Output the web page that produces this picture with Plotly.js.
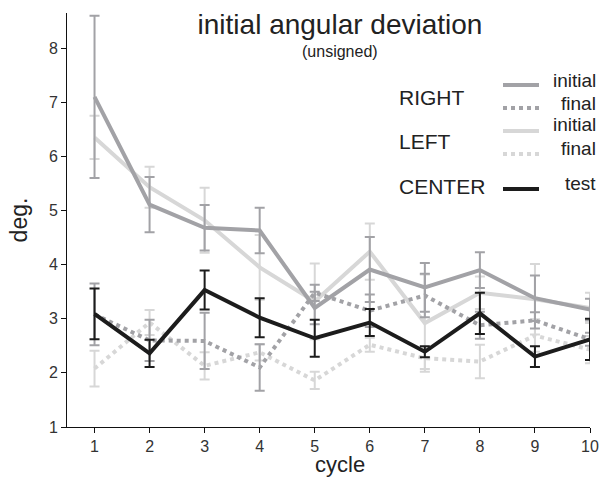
<!DOCTYPE html>
<html>
<head>
<meta charset="utf-8">
<script src="https://cdn.plot.ly/plotly-3.0.1.min.js"></script>
<style>html,body{margin:0;padding:0;background:#fff;}#chart{width:600px;height:478px;}</style>
</head>
<body>
<div id="chart"></div>
<script>
// ---- data ----
var cycles = [1, 2, 3, 4, 5, 6, 7, 8, 9, 10];
var rightInitial    = [7.10, 5.11, 4.68, 4.63, 3.20, 3.91, 3.58, 3.90, 3.38, 3.17];
var rightInitialErr = [1.50, 0.51, 0.42, 0.42, 0.30, 0.60, 0.45, 0.33, 0.42, 0.20];
var rightFinal      = [3.08, 2.60, 2.59, 2.10, 3.48, 3.15, 3.43, 2.88, 2.97, 2.62];
var rightFinalErr   = [0.57, 0.38, 0.52, 0.43, 0.15, 0.30, 0.40, 0.25, 0.15, 0.12];
var leftInitial     = [6.35, 5.43, 4.82, 3.95, 3.32, 4.24, 2.92, 3.48, 3.36, 3.20];
var leftInitialErr  = [0.40, 0.38, 0.60, 0.60, 0.70, 0.52, 0.90, 0.30, 0.65, 0.28];
var leftFinal       = [2.08, 2.93, 2.13, 2.38, 1.86, 2.52, 2.27, 2.21, 2.69, 2.43];
var leftFinalErr    = [0.33, 0.23, 0.25, 0.15, 0.16, 0.13, 0.20, 0.31, 0.30, 0.25];
var centerTest      = [3.09, 2.36, 3.53, 3.02, 2.64, 2.93, 2.39, 3.10, 2.30, 2.62];
var centerTestErr   = [0.47, 0.25, 0.36, 0.36, 0.34, 0.25, 0.10, 0.38, 0.19, 0.38];
var xTickVals = [1, 2, 3, 4, 5, 6, 7, 8, 9, 10];
var yTickVals = [1, 2, 3, 4, 5, 6, 7, 8];

// ---- styles ----
var COL_RIGHT = '#a2a2a6', COL_LEFT = '#d7d7d7', COL_CENTER = '#1c1c1c';
var FONT = '"Liberation Sans", Arial, Helvetica, sans-serif';
var TXT = '#222';

function tr(y, err, color, dash) {
  return {
    x: cycles, y: y, type: 'scatter', mode: 'lines',
    line: {color: color, width: 4, dash: dash},
    error_y: {type: 'data', array: err, visible: true, color: color, thickness: 2, width: 5},
    cliponaxis: false, showlegend: false, hoverinfo: 'skip'
  };
}
var data = [
  tr(leftFinal, leftFinalErr, COL_LEFT, 'dot'),
  tr(leftInitial, leftInitialErr, COL_LEFT, 'solid'),
  tr(rightFinal, rightFinalErr, COL_RIGHT, 'dot'),
  tr(rightInitial, rightInitialErr, COL_RIGHT, 'solid'),
  tr(centerTest, centerTestErr, COL_CENTER, 'solid')
];

// pixel -> paper helpers for legend placement
var L = 67, R = 10, T = 13, B = 51, W = 600, H = 478;
function px(x) { return (x - L) / (W - L - R); }
function py(y) { return (H - B - y) / (H - T - B); }

var legendLines = [
  {y: 85, color: COL_RIGHT, dash: 'solid'},
  {y: 108, color: COL_RIGHT, dash: 'dot'},
  {y: 131, color: COL_LEFT, dash: 'solid'},
  {y: 154, color: COL_LEFT, dash: 'dot'},
  {y: 189, color: COL_CENTER, dash: 'solid'}
];
var shapes = legendLines.map(function (d) {
  return {type: 'line', xref: 'paper', yref: 'paper', x0: px(503), x1: px(539), y0: py(d.y), y1: py(d.y),
          line: {color: d.color, width: 4, dash: d.dash}};
});

function ann(text, x, y, xanchor, size) {
  return {text: text, xref: 'paper', yref: 'paper', x: px(x), y: py(y), xanchor: xanchor, yanchor: 'middle',
          showarrow: false, font: {family: FONT, size: size, color: TXT}};
}
var annotations = [
  ann('(unsigned)', 340, 52, 'center', 16),
  ann('RIGHT', 397, 97, 'left', 21),
  ann('LEFT', 397, 141, 'left', 21),
  ann('CENTER', 397, 186, 'left', 21),
  ann('initial', 598, 81, 'right', 19),
  ann('final', 598, 104, 'right', 19),
  ann('initial', 598, 125, 'right', 19),
  ann('final', 598, 148, 'right', 19),
  ann('test', 598, 183, 'right', 19),
  ann('cycle', 340, 464, 'center', 22)
];

var layout = {
  width: 600, height: 478,
  margin: {l: L, r: R, t: T, b: B, pad: 0},
  paper_bgcolor: '#fff', plot_bgcolor: '#fff',
  font: {family: FONT, color: TXT},
  title: {text: 'initial angular deviation', font: {family: FONT, size: 28, color: TXT},
          x: 340 / 600, xanchor: 'center', xref: 'container', y: 1 - 24 / 478, yanchor: 'middle', yref: 'container'},
  xaxis: {range: [0.5, 10.0], tickvals: xTickVals, ticks: 'outside', ticklen: 5, tickwidth: 1, tickcolor: '#111',
          showline: true, linecolor: '#111', linewidth: 1, showgrid: false, zeroline: false,
          tickfont: {family: FONT, size: 16, color: '#333'}},
  yaxis: {range: [1, 8.65], tickvals: yTickVals, ticks: 'outside', ticklen: 5, tickwidth: 1, tickcolor: '#111',
          showline: true, linecolor: '#111', linewidth: 1, showgrid: false, zeroline: false,
          tickfont: {family: FONT, size: 16, color: '#333'},
          title: {text: 'deg.', font: {family: FONT, size: 23, color: TXT}, standoff: 14}},
  shapes: shapes,
  annotations: annotations
};

Plotly.newPlot('chart', data, layout, {staticPlot: true, displayModeBar: false});
</script>
</body>
</html>
